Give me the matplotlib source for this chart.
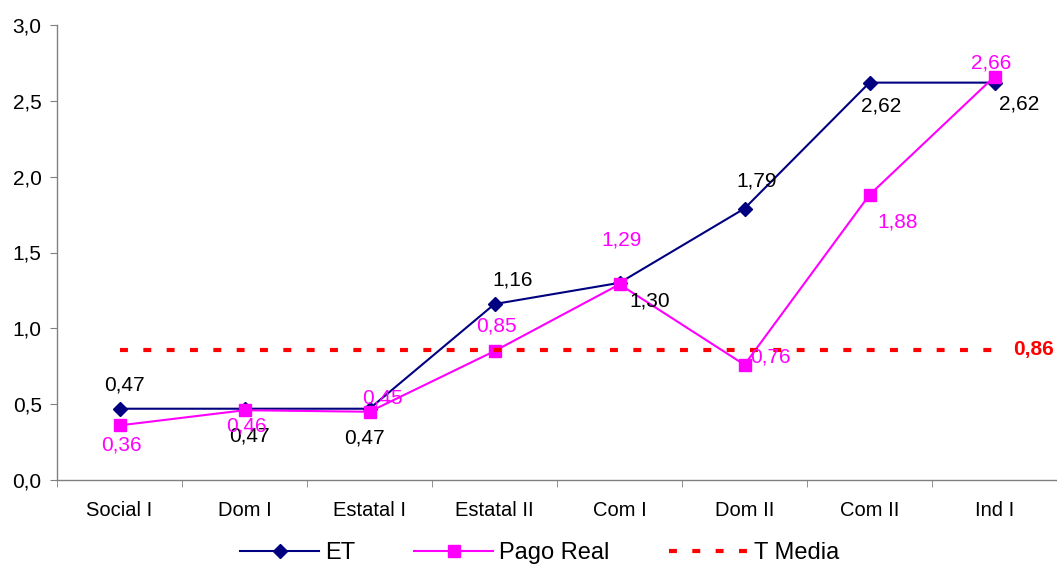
import matplotlib.pyplot as plt
import numpy as np

plt.rcParams['font.family'] = ['Liberation Sans', 'DejaVu Sans']

categorias = ['Social I', 'Dom I', 'Estatal I', 'Estatal II', 'Com I', 'Dom II', 'Com II', 'Ind I']
et = [0.47, 0.47, 0.47, 1.16, 1.30, 1.79, 2.62, 2.62]
pago_real = [0.36, 0.46, 0.45, 0.85, 1.29, 0.76, 1.88, 2.66]
t_media = 0.86

# label offsets in pixels (dx, dy)
off_et = [(5, 24), (5, -27), (-5, -29), (18, 24), (30, -18), (12, 28), (12, -23), (25, -21)]
off_pago = [(2, -20), (2, -16), (13, 14), (2, 25), (2, 44), (26, 8), (28, -27), (-3, 14)]

fig = plt.figure(figsize=(10.57, 5.68), dpi=100)
ax = fig.add_axes([57 / 1057, 1 - 480 / 568, 1 - 57 / 1057, (480 - 25) / 568])

x = np.arange(len(categorias))
ax.plot(x, et, color='#000080', lw=1.5, marker='D', ms=7, label='ET')
ax.plot(x, pago_real, color='#FF00FF', lw=1.5, marker='s', ms=8, label='Pago Real')
ax.plot(x, [t_media] * len(x), color='#FF0000', lw=3, ls=(0, (1.9, 3.7)), label='T Media')

for i, v in enumerate(et):
    ax.annotate(f'{v:.2f}'.replace('.', ','), (x[i], v), xytext=off_et[i],
                textcoords='offset pixels', ha='center', va='center',
                fontsize=15, color='black')
for i, v in enumerate(pago_real):
    ax.annotate(f'{v:.2f}'.replace('.', ','), (x[i], v), xytext=off_pago[i],
                textcoords='offset pixels', ha='center', va='center',
                fontsize=15, color='#FF00FF')
ax.annotate(f'{t_media:.2f}'.replace('.', ','), (x[-1], t_media), xytext=(39, 0),
            textcoords='offset pixels', ha='center', va='center',
            fontsize=15, color='#FF0000', fontweight='bold')

ax.set_xlim(-0.5, len(x) - 0.5)
ax.set_ylim(0, 3.0)
ax.set_yticks(np.arange(0, 3.01, 0.5))
ax.set_yticklabels([f'{v:.1f}'.replace('.', ',') for v in np.arange(0, 3.01, 0.5)], fontsize=15)
ax.set_xticks(x)
ax.set_xticklabels(categorias, fontsize=14.5)
ax.set_xticks(np.arange(-0.5, len(x)), minor=True)
ax.tick_params(axis='x', which='major', length=0, pad=15)
ax.tick_params(axis='x', which='minor', length=5, color='#808080')
ax.tick_params(axis='y', length=5, color='#808080', pad=6)

for s in ['top', 'right']:
    ax.spines[s].set_visible(False)
for s in ['left', 'bottom']:
    ax.spines[s].set_color('#808080')
    ax.spines[s].set_linewidth(1)
for ln in ax.lines:
    ln.set_clip_on(False)

leg = fig.legend(loc='center', bbox_to_anchor=(539.5 / 1057, 1 - 553 / 568), ncol=3, frameon=False,
                 fontsize=17, handlelength=3.35, handletextpad=0.25, columnspacing=2.5,
                 borderpad=0)

fig.savefig('out.png', dpi=100)
